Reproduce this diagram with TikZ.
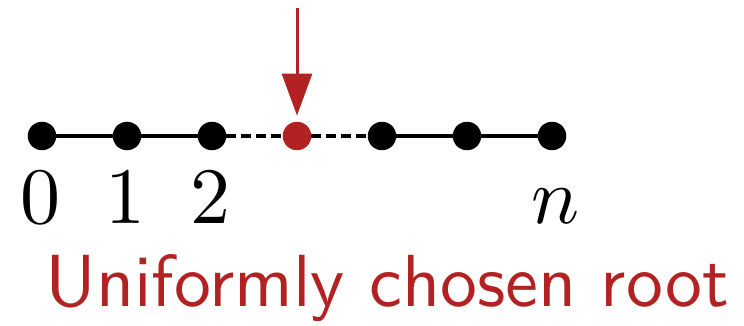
\documentclass[tikz,border=0pt]{standalone}
\usetikzlibrary{arrows.meta}
\definecolor{rootred}{RGB}{178,34,34}
\tikzset{
  vtx/.style={circle,fill=black,inner sep=0pt,minimum size=28.5pt},
  rootvtx/.style={vtx,fill=rootred},
  edge/.style={line width=4pt},
  gapedge/.style={line width=3.5pt,dash pattern=on 9.5pt off 5.5pt},
  lbl/.style={anchor=base,inner sep=0pt,scale=8},
  caption/.style={anchor=base,inner sep=0pt,scale=7.38,text=rootred,font=\sffamily},
}
\begin{document}
\begin{tikzpicture}[x=1pt,y=-1pt]
  \useasboundingbox (0,0) rectangle (744,326);
  % vertices of the path
  \node[vtx] (v0) at (42,136) {};
  \node[vtx] (v1) at (127,136) {};
  \node[vtx] (v2) at (212,136) {};
  \node[rootvtx] (r) at (297,136) {};
  \node[vtx] (v3) at (382,136) {};
  \node[vtx] (v4) at (467,136) {};
  \node[vtx] (v5) at (552,136) {};
  % edges
  \draw[edge] (v0) -- (v1);
  \draw[edge] (v1) -- (v2);
  \draw[gapedge] (v2) -- (r);
  \draw[gapedge] (r) -- (v3);
  \draw[edge] (v3) -- (v4);
  \draw[edge] (v4) -- (v5);
  % pointer to the root
  \coordinate (top) at (297,8);
  \draw[rootred,line width=3pt,-{Triangle[length=42pt,width=30pt]},shorten >=6pt] (top) -- (r);
  % labels
  \node[lbl] (l0) at (40,223) {$0$};
  \node[lbl] (l1) at (125,223) {$1$};
  \node[lbl] (l2) at (210,223) {$2$};
  \node[lbl] (ln) at (556,223) {$n$};
  \node[caption] (cap) at (387,306) {Uniformly chosen root};
\end{tikzpicture}
\end{document}
